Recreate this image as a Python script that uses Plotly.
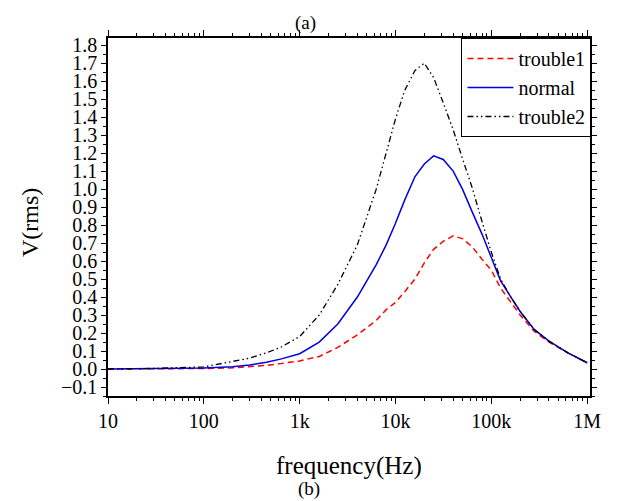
import plotly.graph_objects as go

# frequency points (Hz) and read-off RMS voltages
freq = [10, 30, 100, 200, 300, 450, 630, 1000, 1600, 2500, 4000, 6300, 8000,
        10000, 12500, 16000, 20000, 25000, 31500, 40000, 50000, 63000, 80000,
        100000, 125000, 160000, 200000, 280000, 400000, 630000, 1000000]

trouble1 = [0, 0.001, 0.003, 0.007, 0.012, 0.02, 0.03, 0.045, 0.07, 0.12,
            0.19, 0.27, 0.33, 0.37, 0.43, 0.50, 0.59, 0.665, 0.71, 0.74,
            0.725, 0.68, 0.61, 0.55, 0.45, 0.37, 0.30, 0.21, 0.15, 0.09, 0.035]
normal = [0, 0.002, 0.006, 0.013, 0.022, 0.038, 0.055, 0.085, 0.15, 0.25,
          0.40, 0.58, 0.69, 0.81, 0.94, 1.07, 1.14, 1.185, 1.165, 1.10, 1.00,
          0.875, 0.75, 0.62, 0.49, 0.40, 0.32, 0.22, 0.155, 0.09, 0.035]
trouble2 = [0, 0.003, 0.012, 0.04, 0.06, 0.09, 0.12, 0.18, 0.30, 0.47,
            0.69, 1.0, 1.21, 1.39, 1.55, 1.66, 1.70, 1.62, 1.48, 1.33, 1.17,
            1.01, 0.82, 0.65, 0.50, 0.40, 0.32, 0.22, 0.155, 0.09, 0.035]

x_tickvals = [10, 100, 1000, 10000, 100000, 1000000]
x_ticktext = ['10', '100', '1k', '10k', '100k', '1M']

serif = 'Liberation Serif, Times New Roman, serif'

fig = go.Figure()
fig.add_trace(go.Scatter(x=freq, y=trouble1, name='trouble1', mode='lines',
                         line=dict(color='red', width=1.5, dash='6px,4px')))
fig.add_trace(go.Scatter(x=freq, y=normal, name='normal', mode='lines',
                         line=dict(color='#0000e0', width=1.5)))
fig.add_trace(go.Scatter(x=freq, y=trouble2, name='trouble2', mode='lines',
                         line=dict(color='black', width=1.3,
                                   dash='6px,3px,1.5px,3px,1.5px,3px')))

# page body has an 8px margin, so the figure is sized to the visible area
fig.update_layout(
    width=610, height=493,
    margin=dict(l=100, r=28, t=30, b=105),
    paper_bgcolor='white', plot_bgcolor='white',
    font=dict(family=serif, size=20, color='black'),
    legend=dict(x=1.003, xanchor='right', y=1, yanchor='top',
                bordercolor='black', borderwidth=1, bgcolor='white',
                itemwidth=46, font=dict(size=20)),
    annotations=[
        dict(text='(a)', x=0.41, y=1, xref='paper', yref='paper',
             yanchor='middle', yshift=15, showarrow=False, font=dict(size=19)),
        dict(text='frequency(Hz)', x=0.5, y=0, xref='paper', yref='paper',
             yanchor='middle', yshift=-70, showarrow=False,
             font=dict(size=25)),
        dict(text='(b)', x=0.5, y=0, xref='paper', yref='paper',
             yanchor='middle', yshift=-93, xshift=-40, showarrow=False,
             font=dict(size=19)),
        dict(text='V(rms)', x=0, y=0.5, xref='paper', yref='paper',
             xanchor='center', yanchor='middle', xshift=-78, yshift=-6,
             textangle=-90, showarrow=False, font=dict(size=24)),
    ],
)

fig.update_xaxes(
    type='log', range=[1, 6.03], automargin=False,
    tickvals=x_tickvals, ticktext=x_ticktext,
    ticks='outside', ticklen=6, tickwidth=1.2, tickcolor='black',
    minor=dict(ticks='outside', ticklen=3, dtick='D1', tickcolor='black'),
    showline=True, linecolor='black', linewidth=1.5, mirror='ticks',
    showgrid=False, zeroline=False,
)
fig.update_yaxes(
    range=[-0.15, 1.84], dtick=0.1, tick0=0, tickformat='.1f',
    automargin=False,
    ticks='outside', ticklen=5, tickwidth=1.2, tickcolor='black',
    minor=dict(ticks='outside', ticklen=3, dtick=0.05, tickcolor='black'),
    showline=True, linecolor='black', linewidth=1.5, mirror='ticks',
    showgrid=False, zeroline=False,
)

fig.write_html('out.html')
